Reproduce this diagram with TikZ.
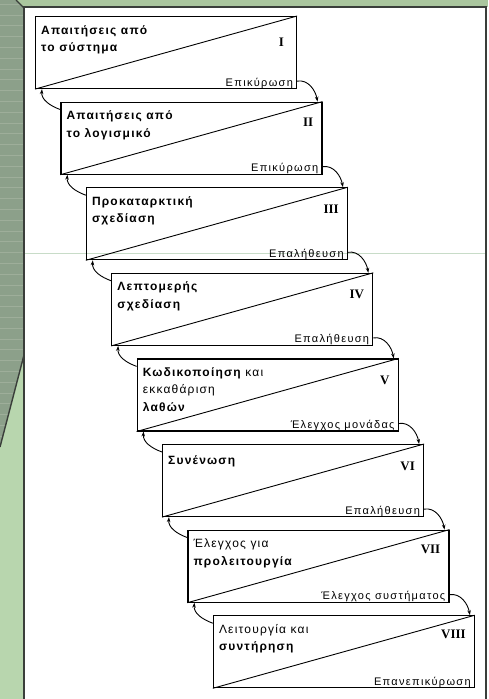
\documentclass[tikz,border=0pt]{standalone}
\usepackage{fontspec}
\setmainfont{Liberation Serif}
\setsansfont{Liberation Sans}
\newfontfamily\stagefont[LetterSpace=10]{Liberation Sans}
\newfontfamily\notefont[LetterSpace=12]{Liberation Sans}
\usetikzlibrary{arrows.meta}
\definecolor{bggreen}{RGB}{170,198,158}
\definecolor{tabgray}{RGB}{140,160,138}
\definecolor{tabline}{RGB}{158,174,154}
\definecolor{leafgreen}{RGB}{184,214,174}
\definecolor{framegray}{RGB}{58,62,58}
\definecolor{faintline}{RGB}{200,220,200}
\begin{document}
\begin{tikzpicture}[x=1pt, y=1pt,
  stage/.style={draw, line width=1.1pt, minimum width=261pt, minimum height=72pt,
                inner sep=0pt, anchor=north west},
  title/.style={anchor=north west, align=left, inner sep=0pt,
                execute at begin node={\rule{0pt}{11pt}},
                font=\stagefont\bfseries\fontsize{12}{17.5}\selectfont},
  roman/.style={anchor=base east, inner sep=0pt, font=\rmfamily\bfseries\fontsize{13}{13}\selectfont},
  note/.style={anchor=base east, inner sep=0pt, font=\notefont\fontsize{11}{11}\selectfont},
  link/.style={line width=0.9pt, -{Stealth[length=5pt, width=3.5pt]}}]
  \useasboundingbox (0,0) rectangle (488,-699);
  % background and sheet
  \fill[bggreen] (0,0) rectangle (488,-699);
  \fill[leafgreen] (0,-300) rectangle (24,-699);
  \fill[tabgray] (0,0) -- (16,0) -- (24,-8) -- (24,-355) -- (0,-447) -- cycle;
  \begin{scope}
    \clip (0,0) -- (16,0) -- (24,-8) -- (24,-355) -- (0,-447) -- cycle;
    \foreach \y in {4,14.8,...,450} \draw[tabline, line width=0.6pt] (0,-\y) -- (24,-\y);
  \end{scope}
  \draw[framegray, line width=1.4pt] (16,0) -- (24,-8);
  \draw[framegray, line width=1.4pt] (24,-355) -- (0,-447);
  \fill[white] (24,-7) rectangle (488,-699);
  \draw[framegray, line width=2pt] (24,-699) -- (24,-7) -- (486,-7) -- (486,-699);
  \draw[faintline, line width=0.6pt] (25,-253) -- (485,-253);
  % stages
  \node[stage] (b1) at (35,-16) {};
  \node[stage] (b2) at ([shift={(25.4,-85.6)}]b1.north west) {};
  \node[stage] (b3) at ([shift={(25.4,-85.6)}]b2.north west) {};
  \node[stage] (b4) at ([shift={(25.4,-85.6)}]b3.north west) {};
  \node[stage] (b5) at ([shift={(25.4,-85.6)}]b4.north west) {};
  \node[stage] (b6) at ([shift={(25.4,-85.6)}]b5.north west) {};
  \node[stage] (b7) at ([shift={(25.4,-85.6)}]b6.north west) {};
  \node[stage] (b8) at ([shift={(25.4,-85.6)}]b7.north west) {};
  \draw[line width=0.9pt] (b1.south west) -- (b1.north east);
  \draw[line width=0.9pt] (b2.south west) -- (b2.north east);
  \draw[line width=0.9pt] (b3.south west) -- (b3.north east);
  \draw[line width=0.9pt] (b4.south west) -- (b4.north east);
  \draw[line width=0.9pt] (b5.south west) -- (b5.north east);
  \draw[line width=0.9pt] (b6.south west) -- (b6.north east);
  \draw[line width=0.9pt] (b7.south west) -- (b7.north east);
  \draw[line width=0.9pt] (b8.south west) -- (b8.north east);
  % titles
  \node[title] (t1) at ([shift={(6,-9)}]b1.north west) {Απαιτήσεις από\\το σύστημα};
  \node[title] (t2) at ([shift={(6,-9)}]b2.north west) {Απαιτήσεις από\\το λογισμικό};
  \node[title] (t3) at ([shift={(6,-9)}]b3.north west) {Προκαταρκτική\\σχεδίαση};
  \node[title] (t4) at ([shift={(6,-9)}]b4.north west) {Λεπτομερής\\σχεδίαση};
  \node[title] (t5) at ([shift={(6,-9)}]b5.north west) {Κωδικοποίηση {\mdseries και}\\{\mdseries εκκαθάριση}\\λαθών};
  \node[title] (t6) at ([shift={(6,-9)}]b6.north west) {Συνένωση};
  \node[title] (t7) at ([shift={(6,-9)}]b7.north west) {{\mdseries Έλεγχος για}\\προλειτουργία};
  \node[title] (t8) at ([shift={(6,-9)}]b8.north west) {{\mdseries Λειτουργία και}\\συντήρηση};
  % numerals
  \node[roman] (n1) at ([shift={(-13,-30)}]b1.north east) {I};
  \node[roman] (n2) at ([shift={(-9,-25)}]b2.north east) {II};
  \node[roman] (n3) at ([shift={(-9,-26)}]b3.north east) {III};
  \node[roman] (n4) at ([shift={(-9,-26)}]b4.north east) {IV};
  \node[roman] (n5) at ([shift={(-9,-26)}]b5.north east) {V};
  \node[roman] (n6) at ([shift={(-9,-26)}]b6.north east) {VI};
  \node[roman] (n7) at ([shift={(-9,-24)}]b7.north east) {VII};
  \node[roman] (n8) at ([shift={(-9,-23)}]b8.north east) {VIII};
  % checks
  \node[note] (e1) at ([shift={(-4,3)}]b1.south east) {Επικύρωση};
  \node[note] (e2) at ([shift={(-4,3)}]b2.south east) {Επικύρωση};
  \node[note] (e3) at ([shift={(-4,3)}]b3.south east) {Επαλήθευση};
  \node[note] (e4) at ([shift={(-4,3)}]b4.south east) {Επαλήθευση};
  \node[note] (e5) at ([shift={(-4,3)}]b5.south east) {Έλεγχος μονάδας};
  \node[note] (e6) at ([shift={(-4,3)}]b6.south east) {Επαλήθευση};
  \node[note] (e7) at ([shift={(-4,3)}]b7.south east) {Έλεγχος συστήματος};
  \node[note] (e8) at ([shift={(-4,3)}]b8.south east) {Επανεπικύρωση};
  % forward
  \draw[link] ([yshift=8]b1.south east) to[out=10, in=100] ([xshift=-5]b2.north east);
  \draw[link] ([yshift=8]b2.south east) to[out=10, in=100] ([xshift=-5]b3.north east);
  \draw[link] ([yshift=8]b3.south east) to[out=10, in=100] ([xshift=-5]b4.north east);
  \draw[link] ([yshift=8]b4.south east) to[out=10, in=100] ([xshift=-5]b5.north east);
  \draw[link] ([yshift=8]b5.south east) to[out=10, in=100] ([xshift=-5]b6.north east);
  \draw[link] ([yshift=8]b6.south east) to[out=10, in=100] ([xshift=-5]b7.north east);
  \draw[link] ([yshift=8]b7.south east) to[out=10, in=100] ([xshift=-5]b8.north east);
  % back
  \draw[link] ([yshift=-8]b2.north west) to[out=160, in=-95] ([xshift=7]b1.south west);
  \draw[link] ([yshift=-8]b3.north west) to[out=160, in=-95] ([xshift=7]b2.south west);
  \draw[link] ([yshift=-8]b4.north west) to[out=160, in=-95] ([xshift=7]b3.south west);
  \draw[link] ([yshift=-8]b5.north west) to[out=160, in=-95] ([xshift=7]b4.south west);
  \draw[link] ([yshift=-8]b6.north west) to[out=160, in=-95] ([xshift=7]b5.south west);
  \draw[link] ([yshift=-8]b7.north west) to[out=160, in=-95] ([xshift=7]b6.south west);
  \draw[link] ([yshift=-8]b8.north west) to[out=160, in=-95] ([xshift=7]b7.south west);
\end{tikzpicture}
\end{document}
